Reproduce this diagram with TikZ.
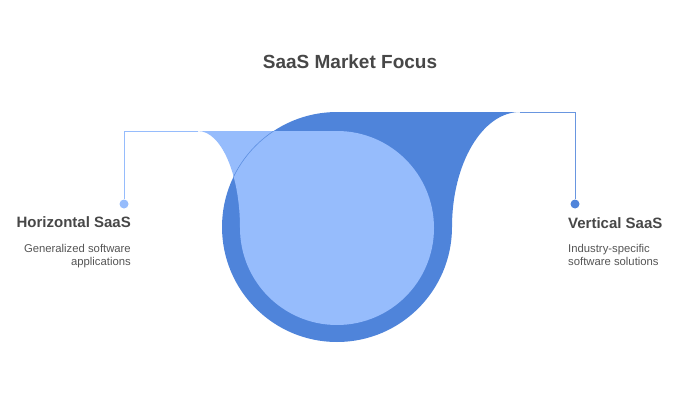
\documentclass[tikz,border=0pt]{standalone}
\usepackage{fontspec}
\setmainfont{Liberation Sans}
\usepackage{xcolor}
\usetikzlibrary{positioning, calc}

\definecolor{darkdrop}{HTML}{4F84DA}
\definecolor{lightdrop}{HTML}{96BCFC}
\definecolor{titlegray}{HTML}{474747}
\definecolor{textgray}{HTML}{555555}

\tikzset{
    heading/.style={font=\bfseries\fontsize{15}{17}\selectfont, text=titlegray, inner sep=0pt},
    blurb/.style={font=\fontsize{11.3}{13.5}\selectfont, text=textgray, inner sep=0pt},
    marker/.style={circle, inner sep=0pt, minimum size=9pt},
    leader/.style={line width=0.9pt}
}

\begin{document}
\begin{tikzpicture}[x=1pt, y=1pt]
    \useasboundingbox (0,0) rectangle (700,400);
    \def\bigr{115}
    \def\smallr{97}
    % dark drop, tail to the right
    \draw[fill=darkdrop, draw=none] (337,288) -- (520,288)
        .. controls (482.5,288) and (452,236.5) .. (452,173)
        arc[start angle=0, end angle=-270, radius=\bigr] -- cycle;
    % light drop, tail to the left
    \draw[fill=lightdrop, draw=none] (337,269) -- (198,269)
        .. controls (221.2,269) and (240,225.5) .. (240,172)
        arc[start angle=180, end angle=450, radius=\smallr] -- cycle;
    \begin{scope}
        \clip (337,269) -- (198,269)
            .. controls (221.2,269) and (240,225.5) .. (240,172)
            arc[start angle=180, end angle=450, radius=\smallr] -- cycle;
        \draw[darkdrop!80!lightdrop, line width=0.6pt] (337,173) circle (\bigr);
    \end{scope}
    \coordinate (htail) at (198,269);
    \coordinate (vtail) at (520,288);
    \node[marker, fill=lightdrop] (hdot) at (124,196) {};
    \node[marker, fill=darkdrop] (vdot) at (575,196) {};
    \draw[leader, lightdrop] (htail) -| (hdot);
    \draw[leader, darkdrop!85] (vtail) -| (vdot);
    \node[font=\bfseries\fontsize{19}{22}\selectfont, text=titlegray] (title) at (350,338) {SaaS Market Focus};
    \node[heading, anchor=east] (hname) at (131,178) {Horizontal SaaS};
    \node[blurb, anchor=north east, align=right] (hinfo) at (131,156) {Generalized software\\applications};
    \node[heading, anchor=west] (vname) at (568,177) {Vertical SaaS};
    \node[blurb, anchor=north west, align=left] (vinfo) at (568,156) {Industry-specific\\software solutions};
\end{tikzpicture}
\end{document}
